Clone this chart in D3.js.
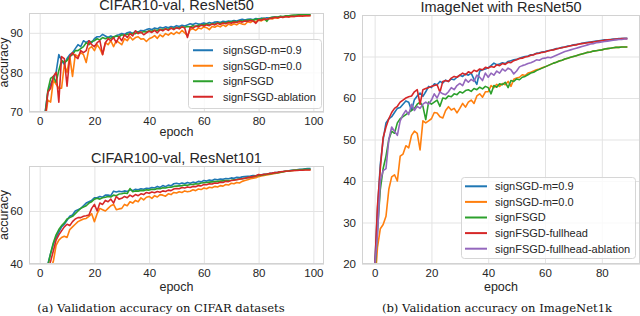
<!DOCTYPE html>
<html>
<head>
<meta charset="utf-8">
<script src="https://cdn.jsdelivr.net/npm/d3@7"></script>
<style>
  body { margin: 0; background: #fff; }
  svg { display: block; }
</style>
</head>
<body>
<svg id="chart" width="640" height="316"></svg>
<script>
// ---- data ----
const legendA = ["signSGD-m=0.9", "signSGD-m=0.0", "signFSGD", "signFSGD-ablation"]
const legendB = ["signSGD-m=0.9", "signSGD-m=0.0", "signFSGD", "signFSGD-fullhead", "signFSGD-fullhead-ablation"]
const colors = ["#1f77b4", "#ff7f0e", "#2ca02c", "#d62728", "#9467bd"]

const cifarEpochs = d3.range(1, 100)
const imagenetEpochs = d3.range(0, 90)

// CIFAR10-val, ResNet50
const c10m09 = [64,70,75,77,78.5,80,84.5,83,82,83.5,
  84.5,85,86,87,86.5,88,87.5,88,87.5,88.5,
  89,89,89.6,89.2,88.8,89.2,88.8,89.3,89.5,89.8,
  89.6,90,90.2,89.8,90.4,90.2,90.6,90.5,90.8,91,
  90.8,91.2,91,91.4,91.2,91.5,91.3,91.6,91.4,91.8,
  91.6,91.9,91.7,92,92.3,92.1,92.4,92.2,92.3,92.5,
  92.3,92.6,92.4,92.7,92.8,92.6,92.9,92.8,93,92.9,
  93.1,93,93.2,93.4,93.2,93.4,93.5,93.3,93.6,93.5,
  93.7,93.6,93.8,93.7,93.9,94,93.9,94.1,94,94.2,
  94.1,94.3,94.2,94.4,94.3,94.5,94.4,94.5,94.5]
const c10m00 = [63,68,73,72.5,78,77,76,76,82,80,
  84,79,84.5,84,85,84.5,82.5,86,86.5,85.5,
  87,86,84.5,87.5,87,88,86.5,88,87.5,87,
  88.5,88,89,88.2,88.8,89,88.4,88.5,87.8,88.5,
  88.8,89.3,88.6,89.5,89,89.8,89.4,90,89.6,90.2,
  89.8,90.6,90,89.2,90.8,91,90.6,91.2,91,91.5,
  91.3,90.8,91.6,91.4,91.8,91.5,92,91.6,92.2,91.9,
  92.3,92,92.5,92.2,92.1,92.8,92.6,93,92.8,93.2,
  93,93.4,93.3,93.6,93.5,93.8,93.7,94,93.9,94.1,
  94,94.2,94.1,94.3,94.2,94.3,94.4,94.3,94.4]
const c10fsgd = [64,69.5,75.5,78.5,79,77.5,80.5,83,82.5,83,
  84,84.5,85.5,85.5,86,86.5,87.5,87,87.8,88,
  88.5,88.2,88.8,88.5,88.8,88.6,89,89.2,89,89.5,
  89.3,89.7,89.6,89.9,89.8,90.2,90,90.3,90.2,90.5,
  90.4,90.7,90.6,90.9,90.8,91,90.9,91.2,91.1,91.3,
  91.2,91.5,91.4,91.6,91.5,91.8,91.6,91.9,92,92,
  92.2,92.1,92.3,92.2,92.5,92.4,92.6,92.5,92.8,92.7,
  92.9,92.8,93,93,93.1,93.2,93.3,93.2,93.4,93.5,
  93.5,93.7,92.9,93.8,93.9,94,94,94.2,94.1,94.3,
  94.3,94.4,94.5,94.5,94.6,94.6,94.7,94.7,94.7]
const c10abl = [63,68,75,76,79,80,72.5,84,83.5,76.5,
  84,85,84,83.5,85.5,85,85.5,88,87,86.5,
  87.5,88,84.5,87.5,88.5,88,88.8,87.5,89,88,
  89.5,88.8,89.8,89.2,90.5,89.8,90.2,89.5,90,90.4,
  90.1,90.6,90,90.8,90.5,91,90.6,91.2,90.8,91.3,
  91,91.5,91.2,88.8,91.4,91.2,91.7,91.5,91.9,91.7,
  92,91.8,92.2,92,92.4,92.1,92.5,92.3,92.6,92.4,
  92.7,92.6,92.9,92.7,93,92.9,93.1,93,92.4,93.3,
  93.2,93.5,93.4,93.6,93.7,93.9,93.8,94,93.9,94.1,
  94,94.2,94.1,94.2,94.3,94.2,94.3,94.3,94.3]

// CIFAR100-val, ResNet101
const c100m09 = [30,35,40,44,47.5,50,52,54,55,56.5,
  58,58.5,60,60.5,61,62,63,63.5,64,65,
  65,65.5,65.2,66,66,65.8,67.5,67.2,67.5,67.3,
  67.6,67.4,68,67.7,68.2,68,68.4,68.2,68.6,68.5,
  68.9,68.7,69.3,68.9,69.6,69.2,69.8,69.5,70.3,70.5,
  70.2,70.6,70.3,70.8,70.5,70.9,70.7,71.2,71,71.5,
  71.3,71.7,71.5,72,71.8,72.1,72,72.3,72.2,72.5,
  72.4,72.7,72.6,72.9,73,73.1,73.2,73.4,73.3,73.6,
  73.7,73.9,74,74.2,74.3,74.5,74.6,74.8,74.9,75.1,
  75.2,75.4,75.5,75.6,75.8,75.8,75.9,76,76]
const c100m00 = [26,31,35,38,41,47,49,50,50.5,50,
  53,54,55,56,56.5,57,57.2,58,59,56,
  59,61,60.5,60,61,62,62.5,60.5,60.8,61,
  62.5,62,63.5,63,64,63.5,65,64.2,65.2,65.5,
  64.8,65.8,65.3,66.2,66,65.6,66.5,66.2,67,66.8,
  67.3,67,67.6,67.3,67.5,68,67.7,68.3,68.1,68.7,
  68.4,69,68.8,69.3,69.1,69.6,69.4,70,69.8,70.5,
  70.3,70.8,70.6,71.2,71.5,71.8,72.2,72.4,72.6,73,
  73.2,73.4,73.6,73.8,74,74.2,74.4,74.6,74.8,75,
  75.1,75.2,75.3,75.4,75.5,75.5,75.6,75.6,75.6]
const c100fsgd = [30,35,39.5,44,48,51,53,54.5,55.5,57,
  57.5,58,59,60,61,61.5,62,63,63.5,64.5,
  64.8,64.5,65,65.2,65.5,65.3,66,65.8,66.4,66.5,
  66.8,66.6,68.5,67.3,67.6,67.5,67.8,67.7,68,67.9,
  68.2,68.1,68.5,68.4,68.8,68.7,69,69,69.3,69.4,
  69.5,69.6,69.8,69.7,70,70,70.3,70.2,70.6,70.7,
  70.8,70.9,71,71.1,71.2,71.3,71.4,71.5,71.5,71.6,
  71.8,71.9,72.1,72.2,72.4,72.6,72.8,73,73.2,73.4,
  73.5,73.7,73.9,74,74.2,74.4,74.5,74.7,74.8,75,
  75.1,75.3,75.4,75.5,75.6,75.7,75.8,75.8,75.8]
const c100abl = [28,33,38,41,45,49,51,52.5,54,55,
  54.5,56,57,57.5,57.5,58,58.2,58.5,61,62.5,
  60,63,62.5,64,63.5,64.5,63,65.5,64.5,64.8,
  65.5,65,66,65.4,66.2,65.8,66.5,66.2,67,66.7,
  67.2,66.9,67.4,67.1,67.6,67.4,67.9,67.7,68.3,68.5,
  68.4,68.9,68.7,69.1,68.9,69.3,69.2,69.6,69.5,70,
  69.9,70.3,70.2,70.6,70.5,70.9,70.8,71.2,71.1,71.5,
  71.6,71.8,72,72.2,72.4,72.6,72.8,73,73.2,73.8,
  73.6,73.9,74,74.2,74.3,74.5,74.6,74.8,74.9,75,
  75.1,75.2,75.3,75.3,75.4,75.4,75.5,75.5,75.5]

// ImageNet with ResNet50
const inM09 = [19,33,44,50,54,55,55.5,56.5,57.5,57.7,
  58.5,59.3,59,57,59.6,60.5,61.2,60.4,61.5,62.8,
  62.5,63.4,63.2,64,63.6,64.3,64,64.6,64.4,65,
  65.5,65.2,65.8,65.5,66,64.5,63.3,66.5,66.8,67,
  67.3,67.8,68.4,68,68.2,68.5,68.3,68.8,69,69.2,
  69.3,69.6,69.8,70,70.1,70.4,70.5,70.8,70.9,71.1,
  71.2,71.4,71.5,71.7,71.9,72,72.2,72.3,72.5,72.6,
  72.8,72.9,73,73.2,73.3,73.4,73.5,73.6,73.7,73.8,
  73.9,74,74,74.1,74.2,74.2,74.3,74.3,74.4,74.4]
const inM00 = [14,24,28.5,29.5,31.5,38,41,41.5,40,46,
  46.5,48.5,48,51,52,51.5,47.5,54.5,54,54.5,
  55,56.5,56.4,55.5,55.2,57,57.9,57.1,57.5,56.4,
  57.5,58.7,57.8,59,59.5,58.7,60.5,61,60.2,61.5,
  61.5,63,62.5,63.3,62.8,63.5,63.2,64,62.8,64.5,
  64.8,65,65.6,65.4,66,66.2,66.5,66.8,67,67.3,
  67.5,67.8,68.1,68.4,68.6,68.9,69.1,69.4,69.6,69.8,
  70,70.2,70.4,70.6,70.8,71,71.1,71.3,71.4,71.5,
  71.6,71.8,71.9,72,72.1,72.2,72.2,72.3,72.3,72.3]
const inFsgd = [17,28,38,43,46,50,52,51.5,54,55,
  55.5,56,56.5,57,57.5,58.5,59,58,54.8,59,
  58.5,59,59.5,58,60,59.8,60.5,60.3,61,60.8,
  61.5,61.2,61.8,62,61.6,62.3,62,62.6,62.2,62.8,
  62.5,61,63,62.6,63.4,63.2,63.8,62.5,64.2,64,
  64.6,64.4,65,65.2,65.6,66,66.2,66.6,66.9,67.2,
  67.5,67.8,68.1,68.4,68.6,68.9,69.1,69.4,69.6,69.8,
  70,70.2,70.4,70.6,70.8,71,71.1,71.3,71.4,71.5,
  71.6,71.8,71.9,72,72.1,72.2,72.2,72.3,72.3,72.3]
const inFull = [18,34,43,50.5,53,55,56.5,57.5,58,59,
  59.5,60,60.3,60.5,61.5,62,58.5,62,62.3,62.5,
  62.8,63,63.2,61.4,64,64.2,64,64.8,65.2,65,
  65.5,66,65.6,66.3,66,66.7,66.4,67,66.8,67.4,
  67.2,67.6,67.4,68,67.8,68.3,68.1,68.6,68.5,69,
  69.2,69.5,69.6,69.9,70,70.3,70.4,70.7,70.8,71,
  71.1,71.3,71.5,71.6,71.8,72,72.1,72.3,72.4,72.6,
  72.7,72.8,73,73.1,73.2,73.3,73.4,73.5,73.6,73.7,
  73.8,73.9,74,74,74.1,74.2,74.2,74.3,74.3,74.3]
const inFullAbl = [19,27,40,42.5,43,50,53,52,51,54.5,
  56,57,56,58.5,57,58,57.5,58.5,59,58.5,
  59.5,61,60,61.5,61,60.8,61.5,62.5,62,63,
  63.5,63,64.5,63.8,64.5,64,65.5,65,64.2,66,
  65,66,65.5,66.5,66,67,66.5,67.2,66.8,65.8,
  66.5,67.5,67.8,68,68.3,68.5,68.8,69.2,69.1,69.5,
  69.6,69.8,69.7,70,70.3,70.6,70.9,71.2,71.4,71.6,
  71.8,72,72.2,72.4,72.6,72.8,73,73.1,73.3,73.4,
  73.5,73.6,73.7,73.8,73.9,74,74.1,74.1,74.2,74.2]

const c10Ticks = [70, 80, 90]
const c100Ticks = [40, 60]
const inTicks = [20, 30, 40, 50, 60, 70, 80]
const cifarXTicks = [0, 20, 40, 60, 80, 100]
const inXTicks = [0, 20, 40, 60, 80]

// ---- drawing ----
const svg = d3.select("#chart")
const sans = "'Liberation Sans', Arial, sans-serif"
const gridColor = "#e3e3e3"
const frameColor = "#d2d2d2"
const textColor = "#262626"

function drawPanel(p) {
  const x = d3.scaleLinear().domain(p.xDomain).range([p.left, p.right])
  const y = d3.scaleLinear().domain(p.yDomain).range([p.bottom, p.top])
  const g = svg.append("g")

  g.append("clipPath").attr("id", p.id)
    .append("rect")
    .attr("x", p.left).attr("y", p.top)
    .attr("width", p.right - p.left).attr("height", p.bottom - p.top)

  // grid
  g.append("g").attr("transform", `translate(0,${p.bottom})`)
    .call(d3.axisBottom(x).tickValues(p.xTicks).tickSize(-(p.bottom - p.top)).tickFormat(""))
    .call(a => a.select(".domain").remove())
    .call(a => a.selectAll("line").attr("stroke", gridColor).attr("stroke-width", 1))
  g.append("g").attr("transform", `translate(${p.left},0)`)
    .call(d3.axisLeft(y).tickValues(p.yTicks).tickSize(-(p.right - p.left)).tickFormat(""))
    .call(a => a.select(".domain").remove())
    .call(a => a.selectAll("line").attr("stroke", gridColor).attr("stroke-width", 1))

  // tick labels
  g.append("g").attr("transform", `translate(0,${p.bottom})`)
    .call(d3.axisBottom(x).tickValues(p.xTicks).tickSize(0).tickPadding(5))
    .call(a => a.select(".domain").remove())
    .call(a => a.selectAll("text").attr("font-family", sans).attr("font-size", 11.5).attr("fill", textColor))
  g.append("g").attr("transform", `translate(${p.left},0)`)
    .call(d3.axisLeft(y).tickValues(p.yTicks).tickSize(0).tickPadding(6))
    .call(a => a.select(".domain").remove())
    .call(a => a.selectAll("text").attr("font-family", sans).attr("font-size", 11.5).attr("fill", textColor))

  // lines
  const line = d3.line().x(d => x(d[0])).y(d => y(d[1]))
  const lines = g.append("g").attr("clip-path", `url(#${p.id})`)
  p.series.forEach((s, i) => {
    lines.append("path")
      .datum(p.epochs.map((e, j) => [e, s[j]]))
      .attr("fill", "none")
      .attr("stroke", colors[i])
      .attr("stroke-width", 1.6)
      .attr("stroke-linejoin", "round")
      .attr("d", line)
  })

  // frame
  g.append("rect")
    .attr("x", p.left + 0.5).attr("y", p.top + 0.5)
    .attr("width", p.right - p.left - 1).attr("height", p.bottom - p.top - 1)
    .attr("fill", "none").attr("stroke", frameColor).attr("stroke-width", 1)

  // title, labels
  g.append("text")
    .attr("x", (p.left + p.right) / 2).attr("y", p.titleY)
    .attr("text-anchor", "middle")
    .attr("font-family", sans).attr("font-size", 14.5).attr("fill", textColor)
    .text(p.title)
  g.append("text")
    .attr("x", (p.left + p.right) / 2).attr("y", p.xLabelY)
    .attr("text-anchor", "middle")
    .attr("font-family", sans).attr("font-size", 12.5).attr("fill", textColor)
    .text("epoch")
  if (p.yLabel) {
    g.append("text")
      .attr("transform", `translate(8,${(p.top + p.bottom) / 2}) rotate(-90)`)
      .attr("text-anchor", "middle")
      .attr("font-family", sans).attr("font-size", 12.5).attr("fill", textColor)
      .text(p.yLabel)
  }

  // legend
  if (p.legend) {
    const L = p.legend
    const lg = g.append("g")
    lg.append("rect")
      .attr("x", L.x + 0.5).attr("y", L.y + 0.5)
      .attr("width", L.w).attr("height", L.h)
      .attr("rx", 3)
      .attr("fill", "white").attr("fill-opacity", 0.8)
      .attr("stroke", "#d6d6d6").attr("stroke-width", 1)
    const cy = L.y + L.h / 2
    L.names.forEach((n, i) => {
      const ry = cy + (i - (L.names.length - 1) / 2) * L.step
      lg.append("line")
        .attr("x1", L.x + L.hx1).attr("x2", L.x + L.hx2)
        .attr("y1", ry).attr("y2", ry)
        .attr("stroke", colors[i]).attr("stroke-width", 2)
      lg.append("text")
        .attr("x", L.x + L.tx).attr("y", ry)
        .attr("dy", "0.35em")
        .attr("font-family", sans).attr("font-size", 11).attr("fill", textColor)
        .text(n)
    })
  }
}

drawPanel({
  id: "clipA", left: 29, right: 324, top: 13, bottom: 112,
  xDomain: [-3.9, 103.9], yDomain: [70, 95],
  xTicks: cifarXTicks, yTicks: c10Ticks,
  epochs: cifarEpochs, series: [c10m09, c10m00, c10fsgd, c10abl],
  title: "CIFAR10-val, ResNet50", titleY: 10, xLabelY: 136, yLabel: "accuracy",
  legend: { names: legendA, x: 188, y: 39, w: 133, h: 69, step: 15.5, hx1: 5, hx2: 25, tx: 35 }
})

drawPanel({
  id: "clipB", left: 29, right: 324, top: 166, bottom: 264,
  xDomain: [-3.9, 103.9], yDomain: [40, 77],
  xTicks: cifarXTicks, yTicks: c100Ticks,
  epochs: cifarEpochs, series: [c100m09, c100m00, c100fsgd, c100abl],
  title: "CIFAR100-val, ResNet101", titleY: 163, xLabelY: 291, yLabel: "accuracy"
})

drawPanel({
  id: "clipC", left: 362, right: 640, top: 15, bottom: 264,
  xDomain: [-4.45, 93.45], yDomain: [20, 80],
  xTicks: inXTicks, yTicks: inTicks,
  epochs: imagenetEpochs, series: [inM09, inM00, inFsgd, inFull, inFullAbl],
  title: "ImageNet with ResNet50", titleY: 12, xLabelY: 291,
  legend: { names: legendB, x: 461, y: 177, w: 174, h: 81, step: 15.6, hx1: 4, hx2: 26, tx: 34 }
})

// captions
const serif = "'DejaVu Serif', 'Liberation Serif', serif"
svg.append("text").attr("x", 161).attr("y", 312).attr("text-anchor", "middle")
  .attr("font-family", serif).attr("font-size", 11.6).attr("fill", "#111")
  .text("(a) Validation accuracy on CIFAR datasets")
svg.append("text").attr("x", 497).attr("y", 312).attr("text-anchor", "middle")
  .attr("font-family", serif).attr("font-size", 11.6).attr("fill", "#111")
  .text("(b) Validation accuracy on ImageNet1k")
</script>
</body>
</html>
